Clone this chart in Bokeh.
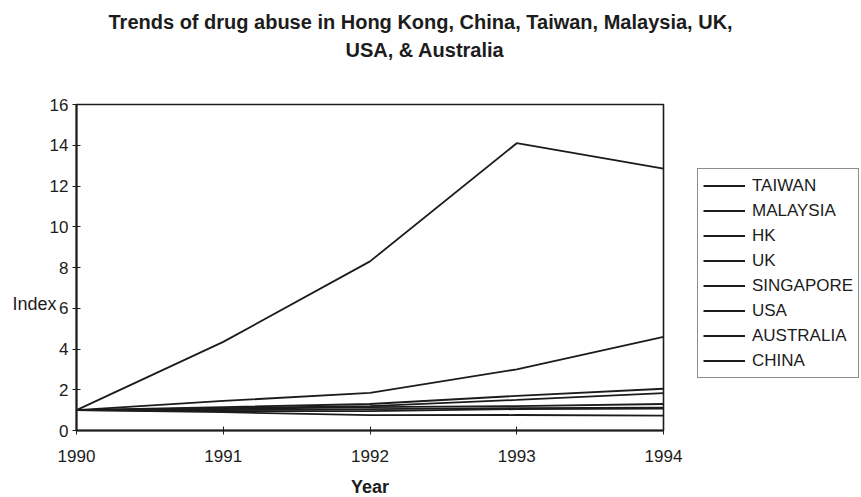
from bokeh.plotting import figure
from bokeh.models import Range1d, Legend, LegendItem, FixedTicker, Title
from bokeh.embed import file_html
from bokeh.resources import INLINE

# Drug abuse index (1990 = 1) by country
years = [1990, 1991, 1992, 1993, 1994]
countries = ["TAIWAN", "MALAYSIA", "HK", "UK", "SINGAPORE", "USA", "AUSTRALIA", "CHINA"]
taiwan = [1.0, 4.35, 8.3, 14.1, 12.85]
malaysia = [1.0, 1.45, 1.85, 3.0, 4.6]
hk = [1.0, 1.15, 1.3, 1.7, 2.05]
uk = [1.0, 1.1, 1.2, 1.5, 1.83]
singapore = [1.0, 1.05, 1.15, 1.2, 1.3]
usa = [1.0, 1.0, 1.05, 1.1, 1.12]
australia = [1.0, 0.95, 0.95, 1.05, 1.08]
china = [1.0, 0.9, 0.75, 0.76, 0.73]
series = [taiwan, malaysia, hk, uk, singapore, usa, australia, china]

y_ticks = [0, 2, 4, 6, 8, 10, 12, 14, 16]
title_lines = ["Trends of drug abuse in Hong Kong, China, Taiwan, Malaysia, UK,",
               "USA, & Australia"]

FONT = "Liberation Sans"
INK = "#1c1c1c"

p = figure(width=861, height=497, frame_width=587, frame_height=326,
           output_backend="svg", toolbar_location=None,
           x_range=Range1d(1990, 1994), y_range=Range1d(0, 16),
           min_border_left=76, min_border_right=0,
           min_border_top=104, min_border_bottom=0)
p.title = None
p.background_fill_color = "white"
p.border_fill_color = "white"
p.outline_line_color = INK
p.outline_line_width = 1.6
p.xgrid.visible = False
p.ygrid.visible = False

for ax in (p.xaxis[0], p.yaxis[0]):
    ax.axis_line_color = INK
    ax.axis_line_width = 2
    ax.major_tick_line_color = INK
    ax.major_tick_line_width = 1
    ax.major_tick_in = 4
    ax.major_tick_out = 4
    ax.minor_tick_line_color = None
    ax.major_label_text_font = FONT
    ax.major_label_text_font_size = "17px"
    ax.major_label_text_color = INK

p.xaxis.ticker = FixedTicker(ticks=years)
p.xaxis.major_label_standoff = 15
p.yaxis.ticker = FixedTicker(ticks=y_ticks)
p.yaxis.major_label_standoff = 4

p.xaxis.axis_label = "Year"
p.xaxis.axis_label_text_font = FONT
p.xaxis.axis_label_text_font_size = "18px"
p.xaxis.axis_label_text_font_style = "bold"
p.xaxis.axis_label_text_color = INK
p.xaxis.axis_label_standoff = 12

# Horizontal caption, set a little below the middle of the axis
p.yaxis.axis_label = "\n\n\nIndex"
p.yaxis.axis_label_orientation = "horizontal"
p.yaxis.axis_label_text_font = FONT
p.yaxis.axis_label_text_font_size = "18px"
p.yaxis.axis_label_text_font_style = "normal"
p.yaxis.axis_label_text_color = INK
p.yaxis.axis_label_standoff = -10

items = []
for name, vals in zip(countries, series):
    r = p.line(years, vals, line_color=INK, line_width=1.8)
    items.append(LegendItem(label=name, renderers=[r]))

legend = Legend(items=items, location=(34, 52))
legend.label_text_font = FONT
legend.label_text_font_size = "17px"
legend.label_text_color = INK
legend.glyph_width = 42
legend.glyph_height = 23
legend.label_height = 23
legend.label_standoff = 7
legend.spacing = 2
legend.padding = 5
legend.margin = 0
legend.border_line_color = INK
legend.border_line_width = 1
legend.background_fill_color = "white"
legend.background_fill_alpha = 1
p.add_layout(legend, "right")

# Blank band between the frame and the two title lines
p.add_layout(Title(text=" ", text_font=FONT, text_font_size="20px", standoff=18), "above")

# Two-line title; panels stack outward from the frame
for line, off in ((title_lines[1], 269), (title_lines[0], 32)):
    p.add_layout(Title(text=line, align="left", offset=off,
                       text_font=FONT, text_font_size="20px", text_font_style="bold",
                       text_color=INK, standoff=4), "above")

open("out.html", "w").write(file_html(p, INLINE))
